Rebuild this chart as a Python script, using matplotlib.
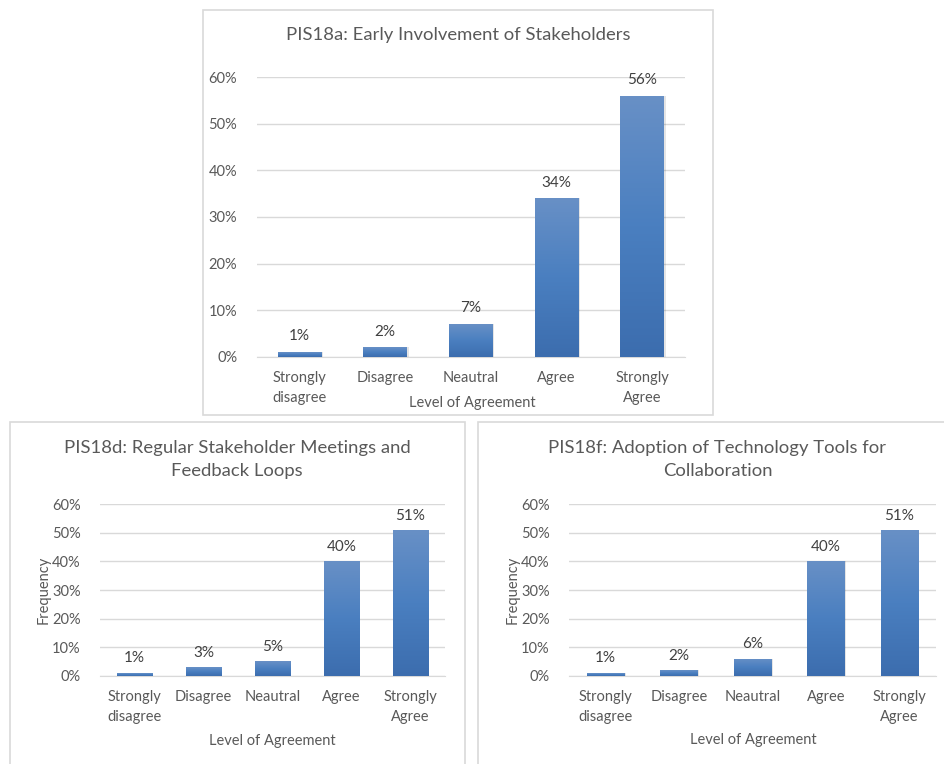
import numpy as np
import matplotlib
matplotlib.use("Agg")
import matplotlib.pyplot as plt
from matplotlib.patches import Rectangle
from matplotlib.colors import LinearSegmentedColormap
from matplotlib.ticker import FuncFormatter

plt.rcParams['font.family'] = ['Lato', 'DejaVu Sans']

categories = ["Strongly\ndisagree", "Disagree", "Neautral", "Agree", "Strongly\nAgree"]
yticks = [0, 10, 20, 30, 40, 50, 60]

title_a = "PIS18a: Early Involvement of Stakeholders"
values_a = [1, 2, 7, 34, 56]

title_d = "PIS18d: Regular Stakeholder Meetings and\nFeedback Loops"
values_d = [1, 3, 5, 40, 51]

title_f = "PIS18f: Adoption of Technology Tools for\nCollaboration"
values_f = [1, 2, 6, 40, 51]

xlabel = "Level of Agreement"
ylabel = "Frequency"

TEXT = "#595959"
GRID = "#D9D9D9"
BORDER = "#D9D9D9"
bar_cmap = LinearSegmentedColormap.from_list("bar", ["#3C6DAE", "#4A7FC0", "#6890C6"])

W, H = 945, 764
fig = plt.figure(figsize=(W / 100, H / 100), dpi=100)
fig.patch.set_facecolor("white")


def fig_rect(x0, y0, x1, y1):
    return [x0 / W, 1 - y1 / H, (x1 - x0) / W, (y1 - y0) / H]


def frame(x0, y0, x1, y1):
    r = Rectangle((x0 / W, 1 - y1 / H), (x1 - x0) / W, (y1 - y0) / H,
                  transform=fig.transFigure, fill=False, edgecolor=BORDER,
                  linewidth=1.2, zorder=0)
    fig.add_artist(r)


def panel(rect, title, values, title_xy, with_ylabel, label_pad):
    ax = fig.add_axes(rect)
    x = np.arange(len(categories))
    bars = ax.bar(x, values, width=0.51, color="none", edgecolor="none", zorder=3)
    grad = np.linspace(0, 1, 256).reshape(-1, 1)
    for b, v in zip(bars, values):
        # soft shadow to the right of each bar
        ax.add_patch(Rectangle((b.get_x() + 0.02, 0), b.get_width(), v,
                               facecolor="#000000", alpha=0.10, edgecolor="none", zorder=2))
        im = ax.imshow(grad, cmap=bar_cmap, aspect="auto", origin="lower",
                       extent=[b.get_x(), b.get_x() + b.get_width(), 0, v], zorder=3)
        im.set_clip_path(b)
        ax.text(b.get_x() + b.get_width() / 2, v + label_pad, f"{v}%",
                ha="center", va="bottom", color="#404040", fontsize=11, zorder=4)
    ax.set_xlim(-0.5, len(categories) - 0.5)
    ax.set_ylim(0, 60)
    ax.set_yticks(yticks)
    ax.yaxis.set_major_formatter(FuncFormatter(lambda v, p: f"{v:.0f}%"))
    ax.set_xticks(x)
    ax.set_xticklabels(categories, linespacing=1.48)
    ax.tick_params(axis="both", length=0, colors=TEXT, labelsize=10.5)
    ax.tick_params(axis="y", pad=14)
    ax.tick_params(axis="x", pad=10.5)
    ax.grid(axis="y", color=GRID, linewidth=1.0, zorder=0)
    for s in ["top", "right", "left"]:
        ax.spines[s].set_visible(False)
    ax.spines["bottom"].set_color(GRID)
    ax.set_axisbelow(True)
    fig.text(title_xy[0] / W, 1 - title_xy[1] / H, title, ha="center", va="center",
             color=TEXT, fontsize=13.3, linespacing=1.5)
    if with_ylabel:
        ax.set_ylabel(ylabel, color=TEXT, fontsize=10.5, labelpad=1)
    return ax


# top panel
frame(203, 10, 713, 415)
ax_a = panel(fig_rect(256.7, 77.3, 685, 356.7), title_a, values_a,
             (458.5, 35), False, 1.9)
fig.text(472 / W, 1 - 403 / H, xlabel, ha="center", va="center", color=TEXT, fontsize=10.5)

# bottom-left panel
frame(10, 422, 465, 800)
ax_d = panel(fig_rect(100, 504.3, 445, 675.7), title_d, values_d,
             (237, 459.5), True, 2.6)
fig.text(272.5 / W, 1 - 741 / H, xlabel, ha="center", va="center", color=TEXT, fontsize=10.5)

# bottom-right panel
frame(478.5, 422, 1000, 800)
ax_f = panel(fig_rect(569, 504.3, 936, 675.7), title_f, values_f,
             (717.5, 459.5), True, 2.6)
fig.text(753 / W, 1 - 740 / H, xlabel, ha="center", va="center", color=TEXT, fontsize=10.5)

fig.savefig("out.png", dpi=100, facecolor="white")
